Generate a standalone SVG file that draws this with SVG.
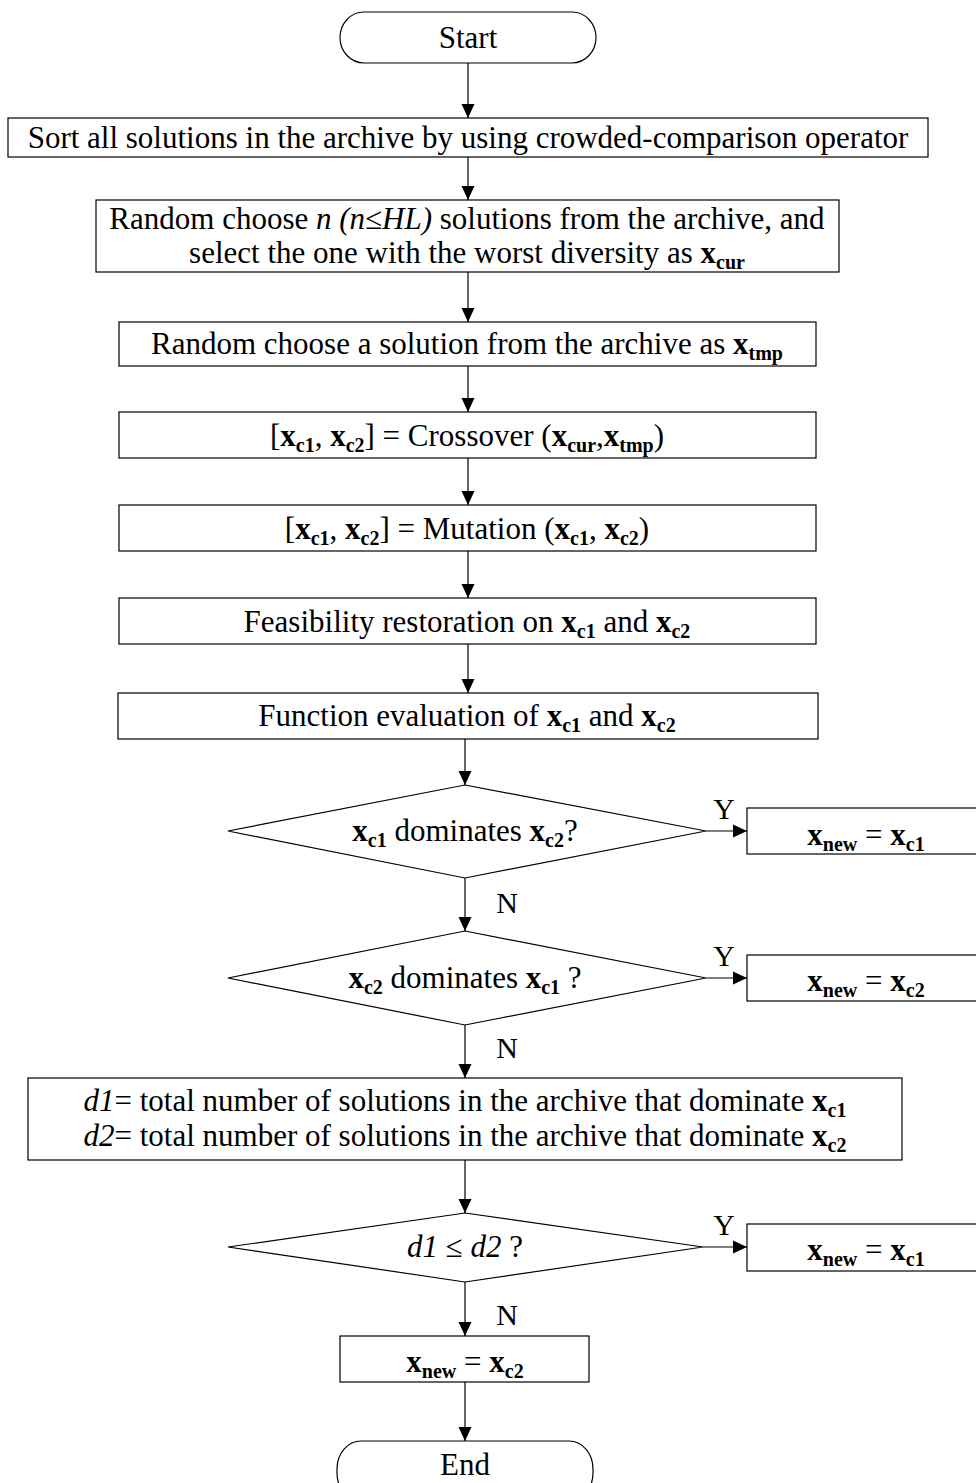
<svg xmlns="http://www.w3.org/2000/svg" width="976" height="1483" viewBox="0 0 976 1483">
  <defs>
    <marker id="arrow" markerWidth="14" markerHeight="14" refX="14" refY="7" orient="auto" markerUnits="userSpaceOnUse">
      <path d="M0,0.5 L14,7 L0,13.5 Z" fill="#000"/>
    </marker>
    <style>
      .box { fill: #fff; stroke: #000; stroke-width: 1.2; }
      .t { font-family: "Liberation Serif", "Times New Roman", serif; font-size: 31px; fill: #000; text-anchor: middle; }
      .lbl { font-family: "Liberation Serif", "Times New Roman", serif; font-size: 30px; fill: #000; text-anchor: middle; }
      .b { font-weight: bold; }
      .s { font-weight: bold; font-size: 20px; }
      .i { font-style: italic; }
      .edge { fill: none; stroke: #000; stroke-width: 1.2; marker-end: url(#arrow); }
    </style>
  </defs>
  <rect width="976" height="1483" fill="#fff"/>

  <g id="connectors">
    <line class="edge" x1="468" y1="63" x2="468" y2="118"/>
    <line class="edge" x1="468" y1="157" x2="468" y2="200"/>
    <line class="edge" x1="468" y1="272" x2="468" y2="322"/>
    <line class="edge" x1="468" y1="366" x2="468" y2="412"/>
    <line class="edge" x1="468" y1="458" x2="468" y2="505"/>
    <line class="edge" x1="468" y1="551" x2="468" y2="598"/>
    <line class="edge" x1="468" y1="644" x2="468" y2="693"/>
    <line class="edge" x1="465" y1="739" x2="465" y2="785"/>
    <line class="edge" x1="465" y1="878" x2="465" y2="931"/>
    <line class="edge" x1="465" y1="1025" x2="465" y2="1078"/>
    <line class="edge" x1="465" y1="1160" x2="465" y2="1213"/>
    <line class="edge" x1="465" y1="1282" x2="465" y2="1336"/>
    <line class="edge" x1="465" y1="1382" x2="465" y2="1441"/>
    <line class="edge" x1="706" y1="831" x2="747" y2="831"/>
    <line class="edge" x1="706" y1="978" x2="747" y2="978"/>
    <line class="edge" x1="703" y1="1247" x2="747" y2="1247"/>
    <text class="lbl" x="724" y="819">Y</text>
    <text class="lbl" x="724" y="966">Y</text>
    <text class="lbl" x="724" y="1235">Y</text>
    <text class="lbl" x="507" y="913">N</text>
    <text class="lbl" x="507" y="1058">N</text>
    <text class="lbl" x="507" y="1325">N</text>
  </g>

  <g id="start">
    <rect class="box" x="340" y="12" width="256" height="51" rx="24" ry="25.5"/>
    <text class="t" x="468" y="48">Start</text>
  </g>

  <g id="sort">
    <rect class="box" x="8" y="118" width="920" height="39"/>
    <text class="t" x="468" y="148">Sort all solutions in the archive by using crowded-comparison operator</text>
  </g>

  <g id="select-cur">
    <rect class="box" x="96" y="200" width="743" height="72"/>
    <text class="t" x="467" y="229">Random choose <tspan class="i">n (n≤HL)</tspan> solutions from the archive, and</text>
    <text class="t" x="467" y="263">select the one with the worst diversity as <tspan class="b">x</tspan><tspan class="s" dy="6">cur</tspan></text>
  </g>

  <g id="select-tmp">
    <rect class="box" x="119" y="322" width="697" height="44"/>
    <text class="t" x="467" y="354">Random choose a solution from the archive as <tspan class="b">x</tspan><tspan class="s" dy="6">tmp</tspan></text>
  </g>

  <g id="crossover">
    <rect class="box" x="119" y="412" width="697" height="46"/>
    <text class="t" x="467" y="446">[<tspan class="b">x</tspan><tspan class="s" dy="6">c1</tspan><tspan dy="-6">, </tspan><tspan class="b">x</tspan><tspan class="s" dy="6">c2</tspan><tspan dy="-6">] = Crossover (</tspan><tspan class="b">x</tspan><tspan class="s" dy="6">cur</tspan><tspan dy="-6">,</tspan><tspan class="b">x</tspan><tspan class="s" dy="6">tmp</tspan><tspan dy="-6">)</tspan></text>
  </g>

  <g id="mutation">
    <rect class="box" x="119" y="505" width="697" height="46"/>
    <text class="t" x="467" y="539">[<tspan class="b">x</tspan><tspan class="s" dy="6">c1</tspan><tspan dy="-6">, </tspan><tspan class="b">x</tspan><tspan class="s" dy="6">c2</tspan><tspan dy="-6">] = Mutation (</tspan><tspan class="b">x</tspan><tspan class="s" dy="6">c1</tspan><tspan dy="-6">, </tspan><tspan class="b">x</tspan><tspan class="s" dy="6">c2</tspan><tspan dy="-6">)</tspan></text>
  </g>

  <g id="feasibility">
    <rect class="box" x="119" y="598" width="697" height="46"/>
    <text class="t" x="467" y="632">Feasibility restoration on <tspan class="b">x</tspan><tspan class="s" dy="6">c1</tspan><tspan dy="-6"> and </tspan><tspan class="b">x</tspan><tspan class="s" dy="6">c2</tspan></text>
  </g>

  <g id="evaluation">
    <rect class="box" x="118" y="693" width="700" height="46"/>
    <text class="t" x="467" y="726">Function evaluation of <tspan class="b">x</tspan><tspan class="s" dy="6">c1</tspan><tspan dy="-6"> and </tspan><tspan class="b">x</tspan><tspan class="s" dy="6">c2</tspan></text>
  </g>

  <g id="decision-c1">
    <polygon class="box" points="465,785 706,831 465,878 228,831"/>
    <text class="t" x="465" y="841"><tspan class="b">x</tspan><tspan class="s" dy="6">c1</tspan><tspan dy="-6"> dominates </tspan><tspan class="b">x</tspan><tspan class="s" dy="6">c2</tspan><tspan dy="-6">?</tspan></text>
  </g>

  <g id="new-c1-a">
    <rect class="box" x="747" y="808" width="240" height="46"/>
    <text class="t" x="866" y="845"><tspan class="b">x</tspan><tspan class="s" dy="6">new</tspan><tspan dy="-6"> = </tspan><tspan class="b">x</tspan><tspan class="s" dy="6">c1</tspan></text>
  </g>

  <g id="decision-c2">
    <polygon class="box" points="465,931 706,978 465,1025 228,978"/>
    <text class="t" x="465" y="988"><tspan class="b">x</tspan><tspan class="s" dy="6">c2</tspan><tspan dy="-6"> dominates </tspan><tspan class="b">x</tspan><tspan class="s" dy="6">c1</tspan><tspan dy="-6"> ?</tspan></text>
  </g>

  <g id="new-c2-a">
    <rect class="box" x="747" y="955" width="240" height="46"/>
    <text class="t" x="866" y="991"><tspan class="b">x</tspan><tspan class="s" dy="6">new</tspan><tspan dy="-6"> = </tspan><tspan class="b">x</tspan><tspan class="s" dy="6">c2</tspan></text>
  </g>

  <g id="count-dominators">
    <rect class="box" x="28" y="1078" width="874" height="82"/>
    <text class="t" x="465" y="1111"><tspan class="i">d1</tspan>= total number of solutions in the archive that dominate <tspan class="b">x</tspan><tspan class="s" dy="6">c1</tspan></text>
    <text class="t" x="465" y="1146"><tspan class="i">d2</tspan>= total number of solutions in the archive that dominate <tspan class="b">x</tspan><tspan class="s" dy="6">c2</tspan></text>
  </g>

  <g id="decision-d">
    <polygon class="box" points="465,1213 703,1247 465,1282 228,1247"/>
    <text class="t" x="465" y="1257"><tspan class="i">d1</tspan> ≤ <tspan class="i">d2</tspan> ?</text>
  </g>

  <g id="new-c1-b">
    <rect class="box" x="747" y="1224" width="240" height="47"/>
    <text class="t" x="866" y="1260"><tspan class="b">x</tspan><tspan class="s" dy="6">new</tspan><tspan dy="-6"> = </tspan><tspan class="b">x</tspan><tspan class="s" dy="6">c1</tspan></text>
  </g>

  <g id="new-c2-b">
    <rect class="box" x="340" y="1336" width="249" height="46"/>
    <text class="t" x="465" y="1372"><tspan class="b">x</tspan><tspan class="s" dy="6">new</tspan><tspan dy="-6"> = </tspan><tspan class="b">x</tspan><tspan class="s" dy="6">c2</tspan></text>
  </g>

  <g id="end">
    <rect class="box" x="337" y="1441" width="256" height="60" rx="24" ry="28"/>
    <text class="t" x="465" y="1475">End</text>
  </g>
</svg>
